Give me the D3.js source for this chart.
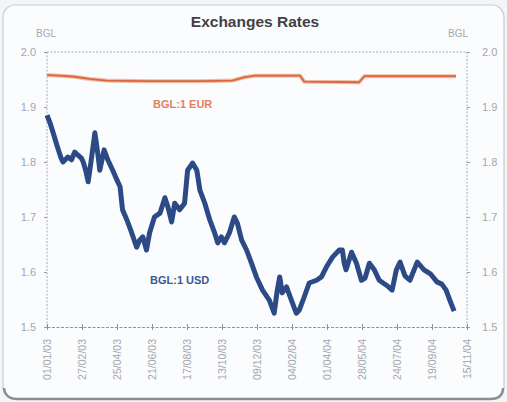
<!DOCTYPE html>
<html>
<head>
<meta charset="utf-8">
<script src="https://cdn.jsdelivr.net/npm/d3@7"></script>
<style>
  html, body { margin: 0; padding: 0; background: #f4f5f7; }
  svg { display: block; font-family: "Liberation Sans", Arial, sans-serif; }
</style>
</head>
<body>
<svg id="chart" width="507" height="402"></svg>
<script>
'use strict';

const title = 'Exchanges Rates';
const unitLabel = 'BGL';

const tickDates = ['01/01/03', '27/02/03', '25/04/03', '21/06/03', '17/08/03', '13/10/03',
  '09/12/03', '04/02/04', '01/04/04', '28/05/04', '24/07/04', '19/09/04', '15/11/04'];
const yTicks = [1.5, 1.6, 1.7, 1.8, 1.9, 2.0];

const eurDates = ['2003-01-01', '2003-01-22', '2003-02-15', '2003-03-11', '2003-04-08', '2003-06-17',
  '2003-09-06', '2003-10-30', '2003-11-18', '2003-12-05', '2004-02-17', '2004-02-24', '2004-05-23',
  '2004-06-01', '2004-10-28'];
const eurValues = [1.958, 1.957, 1.955, 1.951, 1.948, 1.947, 1.947, 1.948, 1.954, 1.957, 1.957,
  1.946, 1.945, 1.956, 1.956];

const usdDates = ['2003-01-01', '2003-01-06', '2003-01-11', '2003-01-17', '2003-01-24', '2003-01-27',
  '2003-02-04', '2003-02-10', '2003-02-15', '2003-02-20', '2003-02-26', '2003-03-01', '2003-03-05',
  '2003-03-09', '2003-03-13', '2003-03-20', '2003-03-25', '2003-03-28', '2003-04-04', '2003-04-10',
  '2003-04-18', '2003-04-25', '2003-04-30', '2003-05-04', '2003-05-11', '2003-05-19', '2003-05-27',
  '2003-06-01', '2003-06-06', '2003-06-12', '2003-06-17', '2003-06-25', '2003-07-04', '2003-07-12',
  '2003-07-17', '2003-07-23', '2003-07-28', '2003-08-05', '2003-08-13', '2003-08-18', '2003-08-26',
  '2003-09-02', '2003-09-07', '2003-09-15', '2003-09-23', '2003-10-01', '2003-10-06', '2003-10-12',
  '2003-10-17', '2003-10-25', '2003-11-02', '2003-11-07', '2003-11-14', '2003-11-22', '2003-11-30',
  '2003-12-08', '2003-12-18', '2003-12-29', '2004-01-06', '2004-01-11', '2004-01-15', '2004-01-19',
  '2004-01-26', '2004-02-03', '2004-02-11', '2004-02-16', '2004-02-24', '2004-03-03', '2004-03-15',
  '2004-03-23', '2004-03-31', '2004-04-10', '2004-04-21', '2004-04-26', '2004-04-29', '2004-05-02',
  '2004-05-11', '2004-05-19', '2004-05-27', '2004-06-02', '2004-06-09', '2004-06-17', '2004-06-25',
  '2004-07-08', '2004-07-16', '2004-07-23', '2004-07-29', '2004-08-06', '2004-08-14', '2004-08-26',
  '2004-09-06', '2004-09-17', '2004-09-27', '2004-10-05', '2004-10-12', '2004-10-18', '2004-10-25'];
const usdValues = [1.885, 1.871, 1.853, 1.831, 1.807, 1.800, 1.809, 1.804, 1.818, 1.813, 1.807,
  1.800, 1.785, 1.764, 1.795, 1.853, 1.813, 1.785, 1.822, 1.804, 1.785, 1.767, 1.755, 1.713,
  1.695, 1.671, 1.645, 1.658, 1.664, 1.640, 1.671, 1.700, 1.707, 1.735, 1.718, 1.691, 1.725,
  1.713, 1.725, 1.785, 1.798, 1.785, 1.749, 1.725, 1.695, 1.671, 1.653, 1.664, 1.653, 1.671,
  1.700, 1.689, 1.658, 1.640, 1.616, 1.591, 1.567, 1.549, 1.525, 1.567, 1.591, 1.562, 1.573,
  1.549, 1.525, 1.531, 1.555, 1.580, 1.585, 1.591, 1.609, 1.627, 1.640, 1.640, 1.616, 1.604,
  1.636, 1.616, 1.585, 1.589, 1.616, 1.604, 1.585, 1.575, 1.567, 1.604, 1.618, 1.593, 1.585,
  1.618, 1.604, 1.596, 1.582, 1.578, 1.567, 1.549, 1.529];

const svg = d3.select('#chart');
const width = 507, height = 402;
const margin = {top: 52, right: 40, bottom: 75, left: 47};

const parseIso = d3.timeParse('%Y-%m-%d');
const parseTick = d3.timeParse('%d/%m/%y');

const x = d3.scaleTime()
  .domain([parseTick(tickDates[0]), parseTick(tickDates[tickDates.length - 1])])
  .range([margin.left, width - margin.right]);

const y = d3.scaleLinear()
  .domain([1.5, 2.0])
  .range([height - margin.bottom, margin.top]);

// card
svg.append('rect')
  .attr('x', 3).attr('y', 5)
  .attr('width', width - 6).attr('height', height - 8)
  .attr('rx', 12)
  .style('fill', '#fbfcfe')
  .style('stroke', '#c9ccd2')
  .style('stroke-width', 1.2);

svg.append('path')
  .attr('d', 'M4,388 Q5,399 18,399 L490,399 Q503,399 503,388')
  .style('fill', 'none')
  .style('stroke', '#8a8d93')
  .style('stroke-width', 2.5);

svg.append('text')
  .attr('x', 255).attr('y', 27)
  .attr('text-anchor', 'middle')
  .style('font-size', '15.5px')
  .style('font-weight', 'bold')
  .style('fill', '#414145')
  .text(title);

svg.append('text')
  .attr('x', 36).attr('y', 37)
  .style('font-size', '10px')
  .style('fill', '#a6a8ad')
  .text(unitLabel);

svg.append('text')
  .attr('x', 448).attr('y', 37)
  .style('font-size', '10px')
  .style('fill', '#a6a8ad')
  .text(unitLabel);

// frame lines
const frame = svg.append('g')
  .style('stroke', '#a9acb3')
  .style('stroke-width', 1)
  .style('stroke-dasharray', '2,1.5')
  .style('fill', 'none');

frame.append('line')
  .attr('x1', x.range()[0]).attr('x2', x.range()[1])
  .attr('y1', y(2.0)).attr('y2', y(2.0));
frame.append('line')
  .attr('x1', x.range()[0]).attr('x2', x.range()[0])
  .attr('y1', y(2.0)).attr('y2', y(1.5));
frame.append('line')
  .attr('x1', x.range()[1]).attr('x2', x.range()[1])
  .attr('y1', y(2.0)).attr('y2', y(1.5));

// y axes
const yLeft = svg.append('g')
  .attr('transform', 'translate(' + margin.left + ',0)')
  .call(d3.axisLeft(y).tickValues(yTicks).tickFormat(d3.format('.1f')).tickSize(3).tickPadding(8));

const yRight = svg.append('g')
  .attr('transform', 'translate(' + (width - margin.right) + ',0)')
  .call(d3.axisRight(y).tickValues(yTicks).tickFormat(d3.format('.1f')).tickSize(3).tickPadding(12));

[yLeft, yRight].forEach(g => {
  g.select('.domain').remove();
  g.selectAll('line').style('stroke', '#9a9da4');
  g.selectAll('text')
    .style('font-size', '11px')
    .style('fill', '#a3a6ac')
    .style('font-family', '"Liberation Sans", Arial, sans-serif');
});

// x axis
const xAxis = svg.append('g')
  .attr('transform', 'translate(0,' + y(1.5) + ')')
  .call(d3.axisBottom(x)
    .tickValues(tickDates.map(parseTick))
    .tickFormat(d3.timeFormat('%d/%m/%y'))
    .tickSize(3)
    .tickSizeOuter(0));

xAxis.select('.domain')
  .style('stroke', '#8f939a')
  .style('stroke-dasharray', '3,1.5');
xAxis.selectAll('line').style('stroke', '#8f939a').attr('y1', -3);
xAxis.selectAll('text')
  .attr('transform', 'rotate(-90)')
  .attr('text-anchor', 'end')
  .attr('x', -12)
  .attr('y', 0)
  .attr('dy', '0.35em')
  .style('font-size', '10.5px')
  .style('fill', '#a3a6ac')
  .style('font-family', '"Liberation Sans", Arial, sans-serif');

// series
const eur = eurDates.map((d, i) => ({date: parseIso(d), value: eurValues[i]}));
const usd = usdDates.map((d, i) => ({date: parseIso(d), value: usdValues[i]}));

const line = d3.line()
  .x(d => x(d.date))
  .y(d => y(d.value))
  .curve(d3.curveLinear);

svg.append('path')
  .datum(eur)
  .attr('d', line)
  .style('fill', 'none')
  .style('stroke', '#f2b9a3')
  .style('stroke-width', 4);

svg.append('path')
  .datum(eur)
  .attr('d', line)
  .style('fill', 'none')
  .style('stroke', '#d8683f')
  .style('stroke-width', 1.8);

svg.append('path')
  .datum(usd)
  .attr('d', line)
  .style('fill', 'none')
  .style('stroke', '#2c4b86')
  .style('stroke-width', 5)
  .style('stroke-linejoin', 'round');

svg.append('text')
  .attr('x', 153).attr('y', 108)
  .style('font-size', '11px')
  .style('font-weight', 'bold')
  .style('fill', '#e0825e')
  .text('BGL:1 EUR');

svg.append('text')
  .attr('x', 150).attr('y', 284)
  .style('font-size', '11px')
  .style('font-weight', 'bold')
  .style('fill', '#3c5a92')
  .text('BGL:1 USD');
</script>
</body>
</html>
